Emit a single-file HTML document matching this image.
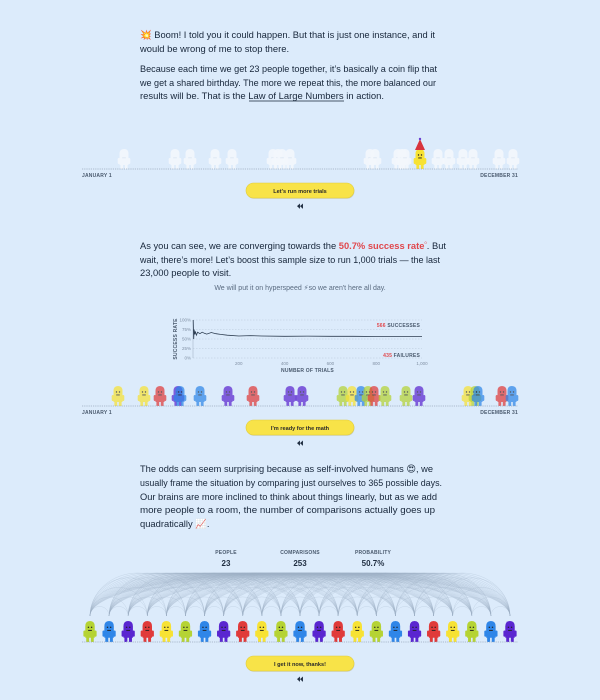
<!DOCTYPE html>
<html><head><meta charset="utf-8"><style>
html,body{margin:0;padding:0;background:#dcebfb;}
svg{display:block;font-family:"Liberation Sans","DejaVu Sans",sans-serif;}
.p{font-size:9.4px;fill:#17263a;}
.lab{font-size:5px;font-weight:bold;fill:#4a5a6e;letter-spacing:0.2px;}
.btnt{font-size:5.6px;font-weight:bold;fill:#2a2a2a;}
</style></head><body>
<svg id="page" width="600" height="700" viewBox="0 0 600 700">
<rect width="600" height="700" fill="#dcebfb"/>
<g>
<text class="p" x="140" y="38" textLength="295" lengthAdjust="spacingAndGlyphs">💥 Boom! I told you it could happen. But that is just one instance, and it</text>
<text class="p" x="140" y="52">would be wrong of me to stop there.</text>
<text class="p" x="140" y="72" textLength="297" lengthAdjust="spacingAndGlyphs">Because each time we get 23 people together, it’s basically a coin flip that</text>
<text class="p" x="140" y="86" textLength="296" lengthAdjust="spacingAndGlyphs">we get a shared birthday. The more we repeat this, the more balanced our</text>
<text class="p" x="140" y="99" textLength="244" lengthAdjust="spacingAndGlyphs">results will be. That is the <tspan>Law of Large Numbers</tspan> in action.</text>
<line x1="249" y1="101" x2="344" y2="101" stroke="#17263a" stroke-width="0.7"/>
</g>
<g id="row1"></g>
<g>
<text class="p" x="140" y="249" textLength="306" lengthAdjust="spacingAndGlyphs">As you can see, we are converging towards the <tspan fill="#e0474c" font-weight="bold">50.7% success rate</tspan><tspan fill="#e0474c" font-size="6" dy="-3">⁰</tspan><tspan dy="3">. But</tspan></text>
<text class="p" x="140" y="263" textLength="300" lengthAdjust="spacingAndGlyphs">wait, there’s more! Let’s boost this sample size to run 1,000 trials — the last</text>
<text class="p" x="140" y="276">23,000 people to visit.</text>
<text x="300" y="290" text-anchor="middle" font-size="7" fill="#5a6b80">We will put it on hyperspeed ⚡so we aren't here all day.</text>
</g>
<g id="chart"></g>
<g id="row2"></g>
<g>
<text class="p" x="140" y="472" textLength="293" lengthAdjust="spacingAndGlyphs">The odds can seem surprising because as self-involved humans 😍, we</text>
<text class="p" x="140" y="486" textLength="302" lengthAdjust="spacingAndGlyphs">usually frame the situation by comparing just ourselves to 365 possible days.</text>
<text class="p" x="140" y="500" textLength="297" lengthAdjust="spacingAndGlyphs">Our brains are more inclined to think about things linearly, but as we add</text>
<text class="p" x="140" y="513" textLength="295" lengthAdjust="spacingAndGlyphs">more people to a room, the number of comparisons actually goes up</text>
<text class="p" x="140" y="527">quadratically 📈.</text>
</g>
<g>
<text class="lab" x="226" y="554" text-anchor="middle" fill="#5a6a7e">PEOPLE</text>
<text x="226" y="566" text-anchor="middle" font-size="8" font-weight="bold" fill="#1f2d40">23</text>
<text class="lab" x="300" y="554" text-anchor="middle">COMPARISONS</text>
<text x="300" y="566" text-anchor="middle" font-size="8" font-weight="bold" fill="#1f2d40">253</text>
<text class="lab" x="373" y="554" text-anchor="middle">PROBABILITY</text>
<text x="373" y="566" text-anchor="middle" font-size="8" font-weight="bold" fill="#1f2d40">50.7%</text>
</g>
<g id="arcs"></g>
<g id="row3"></g>
</svg>
<script>
const NS="http://www.w3.org/2000/svg";
function mk(tag,attrs,parent){const e=document.createElementNS(NS,tag);for(const k in attrs)e.setAttribute(k,attrs[k]);if(parent)parent.appendChild(e);return e;}
const C={g:"#b5d334",b:"#2f86e8",p:"#5a26d0",r:"#e03a3a",y:"#f7e234",w:"#f4f8fd"};

const row1X=[124,175,190,215,232,273,278,282,290,370,375,398,402,405,420,438,449,463,473,499,513];
const row2X=[118,144,160,178,180,200,228,253,290,302,343,352,361,368,374,385,406,419,468,475,478,502,512];
const row2Col=["y","y","r","p","b","b","p","r","p","p","g","y","b","g","r","g","g","p","y","g","b","r","b"];
const row3Col=["g","b","p","r","y"];

const successTrials=[1,3,5,8,10,15,20,30,40,50,60,80,100,120,150,200,250,300,400,500,600,700,800,900,1000];
const successRate=[100,50,75,62,70,60,68,64,68,65,63,67,64,62,60,58,59,58,57,57.5,57,57,56.5,56.6,56.6];
const xTicks=[200,400,600,800,1000];
const xTickLabels=["200","400","600","800","1,000"];
const yTicks=[0,25,50,75,100];
const yTickLabels=["0%","25%","50%","75%","100%"];

function person(parent,x,base,col,op,h){
  const g=mk("g",{opacity:op},parent);
  
  
  const s=h/20;
  mk("path",{d:`M${x-4.5*s} ${base-4*s} L${x-4.5*s} ${base-15*s} Q${x-4.5*s} ${base-20*s} ${x} ${base-20*s} Q${x+4.5*s} ${base-20*s} ${x+4.5*s} ${base-15*s} L${x+4.5*s} ${base-4*s} Z`,fill:col},g);
  mk("rect",{x:x-6.3*s,y:base-11*s,width:2.3*s,height:6*s,rx:1.1*s,fill:col},g);
  mk("rect",{x:x+4*s,y:base-11*s,width:2.3*s,height:6*s,rx:1.1*s,fill:col},g);
  mk("rect",{x:x-3.6*s,y:base-5*s,width:2.8*s,height:5*s,fill:col},g);
  mk("rect",{x:x+0.8*s,y:base-5*s,width:2.8*s,height:5*s,fill:col},g);
  if(col!==C.w){
    mk("circle",{cx:x-1.5*s,cy:base-14*s,r:0.7*s,fill:"#222"},g);
    mk("circle",{cx:x+1.5*s,cy:base-14*s,r:0.7*s,fill:"#222"},g);
    mk("rect",{x:x-1.8*s,y:base-11.5*s,width:3.6*s,height:0.9*s,fill:"#222"},g);
  } else {
    mk("rect",{x:x-1.8*s,y:base-11.5*s,width:3.6*s,height:0.7*s,fill:"#d6e2ee"},g);
  }
}
function axisRow(parent,base){
  const l=mk("line",{x1:82,y1:base,x2:518,y2:base,stroke:"#9aabbd","stroke-width":0.7,"stroke-dasharray":"1.2 1"},parent);
  
}
function labels(parent,y){
  const a=mk("text",{x:82,y:y,class:"lab"},parent);a.textContent="JANUARY 1";
  
  const b=mk("text",{x:518,y:y,class:"lab","text-anchor":"end"},parent);b.textContent="DECEMBER 31";
  
}
function button(parent,y,txt){
  const g=mk("g",{},parent);
  
  mk("rect",{x:246.5,y:y+0.8,width:108,height:15,rx:7.5,fill:"#b7b48a",opacity:0.5},g);
  mk("rect",{x:246,y:y,width:108,height:15,rx:7.5,fill:"#f8e348",stroke:"#e0cc3c","stroke-width":0.6},g);
  const t=mk("text",{x:300,y:y+9.8,"text-anchor":"middle",class:"btnt"},g);t.textContent=txt;
  const r=mk("text",{x:300,y:y+25,"text-anchor":"middle","font-size":7,"font-weight":"bold",fill:"#1f2d40"},parent);
  r.textContent="◀◀";r.setAttribute("textLength","6");r.setAttribute("lengthAdjust","spacingAndGlyphs");
  
}
const r1=document.getElementById("row1");
row1X.forEach(x=>person(r1,x,169,x===420?C.y:C.w,x===420?1:0.9,20));
mk("path",{d:"M415 150 L420 139 L425 150 Z",fill:"#d8343c"},r1);
mk("circle",{cx:420,cy:139,r:1.2,fill:"#6a3fd0"},r1);
axisRow(r1,169);labels(r1,177);button(r1,183,"Let's run more trials");
const r2=document.getElementById("row2");
row2X.forEach((x,i)=>person(r2,x,406,C[row2Col[i]],0.72,20));
axisRow(r2,406);labels(r2,414);button(r2,420,"I'm ready for the math");
const ch=document.getElementById("chart");
const X0=193,X1=422,Y0=358,Y1=320;
const xs=v=>X0+(v/1000)*(X1-X0), ys=v=>Y0-(v/100)*(Y0-Y1);
yTicks.forEach((t,i)=>{
  mk("line",{x1:X0,x2:X1,y1:ys(t),y2:ys(t),stroke:"#b8c8da","stroke-width":0.5,"stroke-dasharray":"1.5 1.5"},ch);
  const tx=mk("text",{x:X0-2,y:ys(t)+1.5,"text-anchor":"end","font-size":4.5,fill:"#8090a4"},ch);tx.textContent=yTickLabels[i];
});
xTicks.forEach((t,i)=>{const tx=mk("text",{x:xs(t),y:365,"text-anchor":"middle","font-size":4.5,fill:"#8090a4"},ch);tx.textContent=xTickLabels[i];});
const xt=mk("text",{x:(X0+X1)/2,y:372,"text-anchor":"middle",class:"lab"},ch);xt.textContent="NUMBER OF TRIALS";
const yt=mk("text",{x:0,y:0,class:"lab","text-anchor":"middle",transform:`translate(177 ${(Y0+Y1)/2}) rotate(-90)`},ch);yt.textContent="SUCCESS RATE";
mk("line",{x1:X0,x2:X0,y1:Y1,y2:Y0,stroke:"#9aabbd","stroke-width":0.5},ch);
const line=mk("path",{d:successTrials.map((t,i)=>(i?"L":"M")+xs(t).toFixed(1)+" "+ys(successRate[i]).toFixed(1)).join(""),fill:"none",stroke:"#2e3e52","stroke-width":0.8},ch);

const s1=mk("text",{x:420,y:327,"text-anchor":"end",class:"lab","font-size":5.2},ch);s1.innerHTML='<tspan fill="#e0474c">566</tspan> SUCCESSES';
const s2=mk("text",{x:420,y:357,"text-anchor":"end",class:"lab","font-size":5.2},ch);s2.innerHTML='<tspan fill="#e0474c">435</tspan> FAILURES';
const r3=document.getElementById("row3"),ar=document.getElementById("arcs");
const N=23,px=i=>90+i*(420/22);
for(let i=0;i<N;i++)for(let j=i+1;j<N;j++){
  const a=px(i),b=px(j),d=b-a,h=Math.min(d/2,43);
  mk("path",{d:`M${a} 616 A${d/2} ${h} 0 0 1 ${b} 616`,fill:"none",stroke:"#9eb0c4","stroke-width":0.35,opacity:0.55},ar);
}
for(let i=0;i<N;i++)person(r3,px(i),642,C[row3Col[i%5]],1,21);
axisRow(r3,642);button(r3,656,"I get it now, thanks!");
</script>
</body></html>
